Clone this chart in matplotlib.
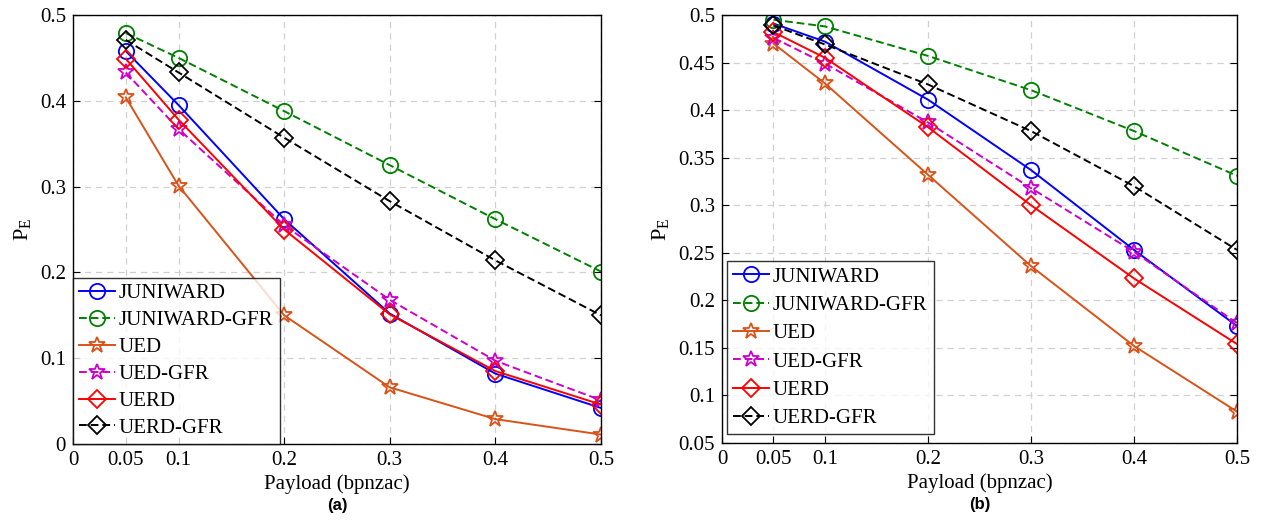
import matplotlib
matplotlib.use("Agg")
import matplotlib.pyplot as plt

x = [0.05, 0.1, 0.2, 0.3, 0.4, 0.5]
names = ["JUNIWARD", "JUNIWARD-GFR", "UED", "UED-GFR", "UERD", "UERD-GFR"]

a_juniward = [0.458, 0.395, 0.262, 0.152, 0.082, 0.042]
a_juniward_gfr = [0.479, 0.450, 0.388, 0.325, 0.262, 0.201]
a_ued = [0.404, 0.301, 0.150, 0.066, 0.029, 0.011]
a_ued_gfr = [0.433, 0.367, 0.255, 0.168, 0.097, 0.051]
a_uerd = [0.449, 0.378, 0.250, 0.151, 0.085, 0.046]
a_uerd_gfr = [0.471, 0.433, 0.357, 0.283, 0.214, 0.150]

b_juniward = [0.491, 0.472, 0.411, 0.337, 0.253, 0.173]
b_juniward_gfr = [0.495, 0.488, 0.457, 0.421, 0.378, 0.331]
b_ued = [0.470, 0.428, 0.332, 0.236, 0.152, 0.083]
b_ued_gfr = [0.476, 0.449, 0.387, 0.318, 0.251, 0.176]
b_uerd = [0.482, 0.455, 0.382, 0.300, 0.223, 0.154]
b_uerd_gfr = [0.489, 0.469, 0.427, 0.378, 0.320, 0.253]

xticks = [0, 0.05, 0.1, 0.2, 0.3, 0.4, 0.5]
xticklabels = ["0", "0.05", "0.1", "0.2", "0.3", "0.4", "0.5"]
a_yticks = [0, 0.1, 0.2, 0.3, 0.4, 0.5]
b_yticks = [0.05, 0.1, 0.15, 0.2, 0.25, 0.3, 0.35, 0.4, 0.45, 0.5]

styles = [
    dict(color="#0000ff", ls="-", marker="o"),
    dict(color="#008000", ls="--", marker="o"),
    dict(color="#d95319", ls="-", marker="*"),
    dict(color="#cc00cc", ls="--", marker="*"),
    dict(color="#ff0000", ls="-", marker="D"),
    dict(color="#000000", ls="--", marker="D"),
]

plt.rcParams["font.family"] = ["Liberation Serif", "DejaVu Serif"]
plt.rcParams["mathtext.fontset"] = "custom"
plt.rcParams["mathtext.rm"] = "Liberation Serif"
plt.rcParams["mathtext.it"] = "Liberation Serif"

fig = plt.figure(figsize=(12.62, 5.21), dpi=100)
axa = fig.add_axes([0.0578, 0.1478, 0.4184, 0.8234])
axb = fig.add_axes([0.5721, 0.1497, 0.4081, 0.8215])


def draw(ax, series, yticks, ylim, legend_bbox, panel, ylabelpad, lspace):
    for name, ys, st in zip(names, series, styles):
        ms = 12 if st["marker"] == "*" else (11 if st["marker"] == "o" else 9)
        ax.plot(x, ys, color=st["color"], ls=st["ls"], marker=st["marker"],
                markersize=ms, markerfacecolor="none", markeredgecolor=st["color"],
                markeredgewidth=1.3, lw=1.4, label=name,
                dashes=(4, 2) if st["ls"] == "--" else (None, None))
    ax.set_xlim(0, 0.5)
    ax.set_ylim(*ylim)
    ax.set_xticks(xticks)
    ax.set_xticklabels(xticklabels)
    ax.set_yticks(yticks)
    ax.set_yticklabels([("%g" % t) for t in yticks])
    ax.tick_params(direction="in", labelsize=15, right=True, top=False, length=5, pad=5)
    ax.grid(True, color="#d0d0d0", ls=(0, (5, 4)), lw=0.9)
    ax.set_axisbelow(True)
    ax.set_xlabel("Payload (bpnzac)", fontsize=15, labelpad=3)
    ax.set_ylabel(r"P$_\mathrm{E}$", fontsize=16, labelpad=ylabelpad)
    leg = ax.legend(loc="lower left", bbox_to_anchor=legend_bbox, fontsize=15,
                    frameon=True, fancybox=False, edgecolor="black",
                    handlelength=1.7, handletextpad=0.2, borderpad=0.3,
                    labelspacing=lspace, borderaxespad=0)
    leg.get_frame().set_linewidth(1.0)
    for sp in ax.spines.values():
        sp.set_linewidth(1.0)
    ax.text(0.5, -0.125, panel, transform=ax.transAxes, ha="center", va="top",
            fontsize=12, fontweight="bold", family=["Liberation Sans", "DejaVu Sans"])


draw(axa, [a_juniward, a_juniward_gfr, a_ued, a_ued_gfr, a_uerd, a_uerd_gfr],
     a_yticks, (0, 0.5), (0.0, 0.0), "(a)", 5, 0.35)
draw(axb, [b_juniward, b_juniward_gfr, b_ued, b_ued_gfr, b_uerd, b_uerd_gfr],
     b_yticks, (0.05, 0.5), (0.01, 0.02), "(b)", 5, 0.42)

fig.savefig("out.png", dpi=100)
